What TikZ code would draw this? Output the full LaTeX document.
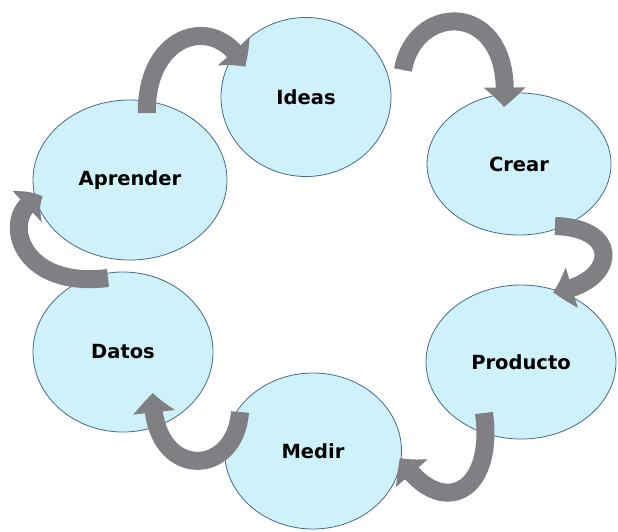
\documentclass[tikz,border=0pt]{standalone}
\usepackage{fontspec}
\setmainfont{DejaVu Sans}
\usetikzlibrary{shapes.geometric,arrows.meta,bending,calc}
\definecolor{cyclefill}{RGB}{207,241,250}
\definecolor{cycleline}{RGB}{70,105,145}
\definecolor{flowgray}{RGB}{128,127,132}
\tikzset{
  stage/.style={ellipse, draw=cycleline, line width=0.8pt, fill=cyclefill,
    inner sep=0pt, font=\fontsize{19.5}{22}\selectfont\bfseries},
  flow/.style={draw=flowgray, line width=18pt,
    -{Triangle[width=40pt,length=20pt,bend]}}
}
\begin{document}
\begin{tikzpicture}[x=1pt,y=-1pt]
\useasboundingbox (0,0) rectangle (618,531);
\fill[white] (0,0) rectangle (618,531);

% the six stages of the cycle
\node[stage, minimum width=170pt, minimum height=159pt] (ideas)    at (306,97)  {Ideas};
\node[stage, minimum width=184pt, minimum height=142pt] (crear)    at (519,164) {Crear};
\node[stage, minimum width=190pt, minimum height=154pt] (producto) at (521,362) {Producto};
\node[stage, minimum width=177pt, minimum height=156pt] (medir)    at (313,451) {Medir};
\node[stage, minimum width=180pt, minimum height=160pt] (datos)    at (123,352) {Datos};
\node[stage, minimum width=194pt, minimum height=160pt] (aprender) at (130,180) {Aprender};

% curved block arrows between consecutive stages
\draw[flow] ($(aprender)+(17,-67)$) .. controls (145,35) and (215,10) .. ($(ideas)+(-61,-30)$);
\draw[flow] ($(ideas)+(97,-27)$) .. controls (415,0) and (515,0) .. ($(crear)+(-15,-57)$);
\draw[flow] ($(crear)+(36,62)$) .. controls (625,228) and (615,285) .. ($(producto)+(32,-70)$);
\draw[flow] ($(producto)+(-37,51)$) .. controls (495,495) and (440,520) .. ($(medir)+(87,7)$);
\draw[flow] ($(medir)+(-73,-39)$) .. controls (235,480) and (150,480) .. ($(datos)+(30,41)$);
\draw[flow] ($(datos)+(-15,-74)$) .. controls (10,290) and (0,205) .. ($(aprender)+(-87,17)$);
\end{tikzpicture}
\end{document}
